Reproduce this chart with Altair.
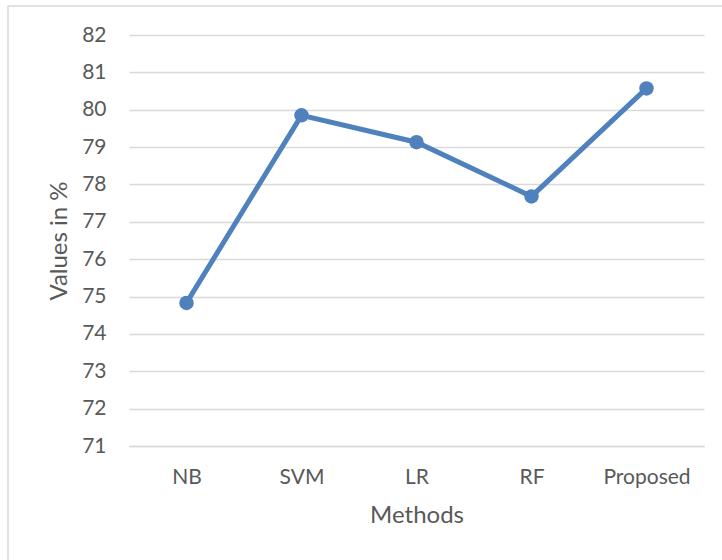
import altair as alt
import pandas as pd

methods = ["NB", "SVM", "LR", "RF", "Proposed"]
values = [74.83, 79.85, 79.13, 77.68, 80.57]
y_ticks = [71, 72, 73, 74, 75, 76, 77, 78, 79, 80, 81, 82]

df = pd.DataFrame({"Methods": methods, "Value": values})

FONT = "Lato"
TXT = "#595959"
BLUE = "#4f81bd"

x = alt.X("Methods:N", sort=methods, title="Methods",
          scale=alt.Scale(paddingInner=0, paddingOuter=0.5),
          axis=alt.Axis(labelAngle=0, labelFontSize=21, labelColor=TXT, labelFont=FONT,
                        titleFontSize=24, titleColor=TXT, titleFont=FONT, titleFontWeight="normal",
                        titlePadding=16, labelPadding=20, ticks=False, domain=True,
                        domainColor="#d9d9d9", domainWidth=1.5, grid=False))
y = alt.Y("Value:Q", title="Values in %",
          scale=alt.Scale(domain=[71, 82], nice=False, zero=False),
          axis=alt.Axis(values=y_ticks, labelFontSize=21, labelColor=TXT, labelFont=FONT,
                        titleFontSize=24, titleColor=TXT, titleFont=FONT, titleFontWeight="normal",
                        titlePadding=10, labelPadding=23, ticks=False, domain=False,
                        gridColor="#d9d9d9", gridWidth=1.5))

base = alt.Chart(df)
border = base.mark_rect(fill=None, fillOpacity=0, stroke="#d9d9d9", strokeWidth=1.5).encode(
    x=alt.value(-121), x2=alt.value(640), y=alt.value(-29), y2=alt.value(545)
).transform_filter(alt.datum.Methods == "NB")
line = base.mark_line(color=BLUE, strokeWidth=5).encode(x=x, y=y)
pts = base.mark_point(color=BLUE, filled=True, opacity=1, size=210).encode(x=x, y=y)

chart = alt.layer(border, line, pts).properties(
    width=575, height=411,
    autosize=alt.AutoSizeParams(type="none"),
    padding={"left": 129, "top": 35, "right": 18, "bottom": 114},
    background="white"
).configure_view(stroke=None)

chart.save("out.html", embed_options={"renderer": "svg", "actions": False})
